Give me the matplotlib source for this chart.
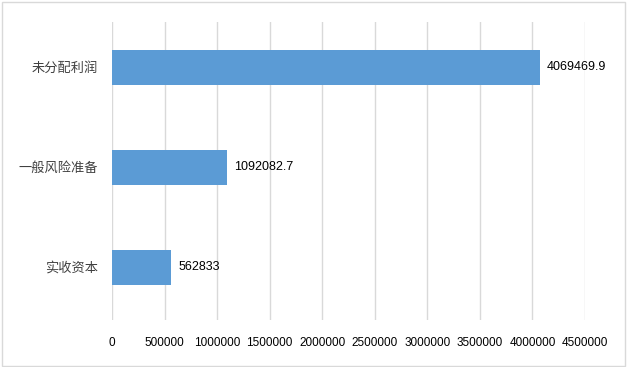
import matplotlib.pyplot as plt
from matplotlib.patches import Rectangle

# data
categories = ['实收资本', '一般风险准备', '未分配利润']
values = [562833, 1092082.7, 4069469.9]
value_labels = ['562833', '1092082.7', '4069469.9']
x_ticks = [0, 500000, 1000000, 1500000, 2000000, 2500000, 3000000, 3500000, 4000000, 4500000]

bar_color = '#5B9BD5'
grid_color = '#D9D9D9'

fig = plt.figure(figsize=(6.27, 3.67), dpi=100)
ax = fig.add_axes([0.1786, 0.128, 0.7544, 0.812])

y_pos = list(range(len(categories)))
ax.barh(y_pos, values, height=0.35, color=bar_color, zorder=2)

for y, v, lab in zip(y_pos, values, value_labels):
    ax.text(v + 70000, y, lab, va='center', ha='left', fontsize=9,
            family=['Liberation Sans', 'DejaVu Sans'], color='black')

ax.set_xlim(0, 4500000)
ax.set_ylim(-0.53, 2.45)
ax.set_xticks(x_ticks)
ax.set_xticklabels([str(t) for t in x_ticks], fontsize=8.5,
                   family=['Liberation Sans', 'DejaVu Sans'])
ax.set_yticks(y_pos)
ax.set_yticklabels(categories, fontsize=9.5,
                   family=['Noto Sans CJK SC', 'DejaVu Sans'], color='#404040')

ax.xaxis.grid(True, color=grid_color, linewidth=1, zorder=0)
ax.set_axisbelow(True)
ax.tick_params(axis='both', length=0)
ax.tick_params(axis='x', pad=12)
ax.tick_params(axis='y', pad=10)
for s in ax.spines.values():
    s.set_visible(False)

# light border around the whole chart
fig.patches.append(Rectangle((0.003, 0.004), 0.994, 0.99, transform=fig.transFigure,
                             fill=False, edgecolor=grid_color, linewidth=1))

fig.savefig('out.png', dpi=100)
